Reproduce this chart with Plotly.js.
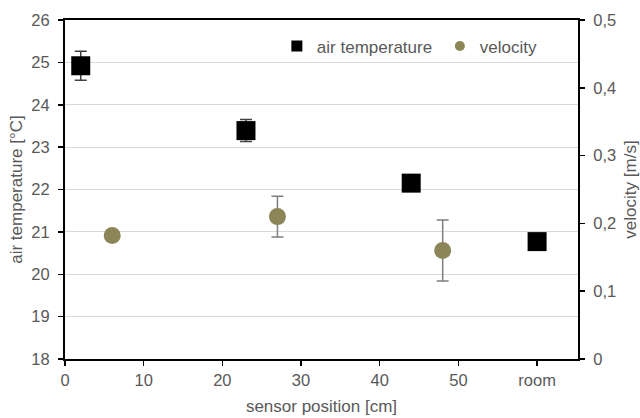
<!DOCTYPE html>
<html>
<head>
<meta charset="utf-8">
<script src="https://cdn.plot.ly/plotly-3.0.1.min.js"></script>
<style>html,body{margin:0;padding:0;background:#fff;}#chart{width:640px;height:418px;}</style>
</head>
<body>
<div id="chart"></div>
<script>
// Data
const tempPositions = [2, 23, 44, 60];          // 60 = "room"
const airTemperature = [24.92, 23.39, 22.15, 20.77];
const airTemperatureErr = [0.34, 0.26, 0, 0];
const velPositions = [6, 27, 48];
const velocity = [0.182, 0.21, 0.16];
const velocityErr = [0, 0.03, 0.045];
const xTickVals = [0, 10, 20, 30, 40, 50, 60];
const xTickText = ["0", "10", "20", "30", "40", "50", "room"];

const textColor = "#595959";
const olive = "#8c8558";
const font = "Liberation Sans, Arial, sans-serif";

const traces = [
  {
    x: tempPositions, y: airTemperature, type: "scatter", mode: "markers",
    name: "air temperature", showlegend: false, yaxis: "y",
    marker: {symbol: "square", size: 19, color: "#000000"},
    error_y: {type: "data", array: airTemperatureErr, visible: true, color: "#404040", thickness: 1.5, width: 6}
  },
  {
    x: velPositions, y: velocity, type: "scatter", mode: "markers",
    name: "velocity", showlegend: false, yaxis: "y2",
    marker: {symbol: "circle", size: 17, color: olive},
    error_y: {type: "data", array: velocityErr, visible: true, color: "#7f7f7f", thickness: 1.5, width: 6}
  },
  {
    x: [null], y: [null], type: "scatter", mode: "markers", name: "air temperature",
    marker: {symbol: "square", size: 11, color: "#000000"}, yaxis: "y"
  },
  {
    x: [null], y: [null], type: "scatter", mode: "markers", name: "velocity",
    marker: {symbol: "circle", size: 10, color: olive}, yaxis: "y2"
  }
];

const layout = {
  width: 640, height: 418,
  margin: {l: 65, r: 62, t: 20, b: 59},
  paper_bgcolor: "#ffffff", plot_bgcolor: "#ffffff",
  separators: ",.",
  font: {family: font, size: 17, color: textColor},
  showlegend: true,
  legend: {
    orientation: "h", x: 0.413, y: 0.975, xanchor: "left", yanchor: "top",
    bgcolor: "rgba(255,255,255,0)", font: {size: 17, color: textColor},
    itemwidth: 30, entrywidth: 118, tracegroupgap: 0
  },
  xaxis: {
    range: [0, 65.2], tickvals: xTickVals, ticktext: xTickText,
    showgrid: false, zeroline: false, showline: true, linecolor: "#000", linewidth: 2,
    mirror: true, ticks: "outside", ticklen: 5, tickcolor: "#000", tickwidth: 1.5,
    tickfont: {size: 16.5, color: textColor},
    title: {text: "sensor position [cm]", font: {size: 17, color: textColor}, standoff: 12}
  },
  yaxis: {
    range: [18, 26], dtick: 1, tick0: 18,
    showgrid: true, gridcolor: "#d9d9d9", gridwidth: 1.2, zeroline: false,
    showline: true, linecolor: "#000", linewidth: 2,
    ticks: "outside", ticklen: 5, tickcolor: "#000", tickwidth: 1.5,
    ticklabelstandoff: 5,
    tickfont: {size: 16.5, color: textColor},
    title: {text: "air temperature [°C]", font: {size: 17, color: textColor}, standoff: 4}
  },
  yaxis2: {
    overlaying: "y", side: "right", range: [0, 0.5], dtick: 0.1, tick0: 0,
    showgrid: false, zeroline: false, showline: true, linecolor: "#000", linewidth: 2,
    ticks: "outside", ticklen: 5, tickcolor: "#000", tickwidth: 1.5,
    ticklabelstandoff: 5,
    tickfont: {size: 16.5, color: textColor},
    title: {text: "velocity [m/s]", font: {size: 17, color: textColor}, standoff: 11}
  }
};

Plotly.newPlot("chart", traces, layout, {displayModeBar: false, staticPlot: true});
</script>
</body>
</html>
